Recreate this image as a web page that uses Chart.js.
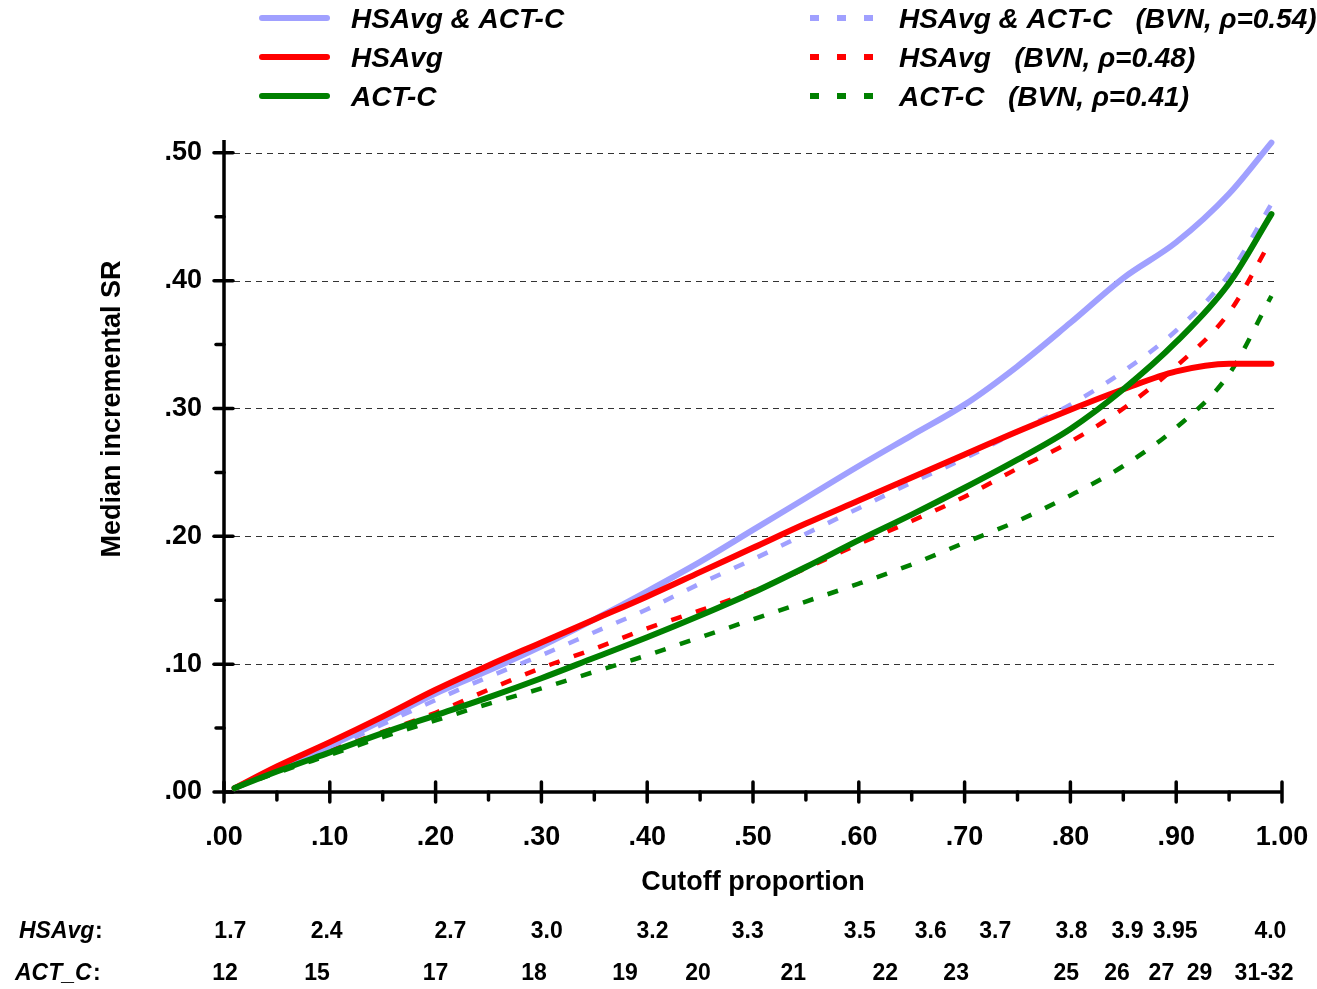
<!DOCTYPE html>
<html>
<head>
<meta charset="utf-8">
<script src="https://cdn.jsdelivr.net/npm/chart.js@4.4.1/dist/chart.umd.min.js"></script>
<style>
  html, body { margin: 0; padding: 0; background: #fff; }
  #wrap { width: 1317px; height: 989px; }
</style>
</head>
<body>
<div id="wrap"><canvas id="cutoff" width="1317" height="989"></canvas></div>
<script>
// cutoff proportion (x) and median incremental SR for each curve
const cutoffs = [0.01, 0.05, 0.10, 0.15, 0.20, 0.25, 0.30, 0.35, 0.40, 0.45, 0.50,
                 0.55, 0.60, 0.65, 0.70, 0.75, 0.80, 0.85, 0.90, 0.95, 0.99];
const bothObserved  = [0.003, 0.018, 0.036, 0.056, 0.077, 0.095, 0.114, 0.135, 0.157, 0.180, 0.205,
                       0.230, 0.255, 0.279, 0.303, 0.333, 0.367, 0.402, 0.430, 0.468, 0.508];
const hsavgObserved = [0.003, 0.020, 0.039, 0.059, 0.080, 0.099, 0.117, 0.135, 0.153, 0.172, 0.191,
                       0.210, 0.228, 0.246, 0.264, 0.282, 0.299, 0.315, 0.329, 0.335, 0.335];
const actObserved   = [0.003, 0.016, 0.031, 0.046, 0.060, 0.074, 0.089, 0.105, 0.121, 0.138, 0.156,
                       0.176, 0.197, 0.217, 0.238, 0.260, 0.284, 0.315, 0.352, 0.398, 0.452];
const bothBvn       = [0.003, 0.017, 0.034, 0.053, 0.072, 0.090, 0.107, 0.125, 0.143, 0.163, 0.182,
                       0.202, 0.222, 0.242, 0.261, 0.282, 0.303, 0.329, 0.361, 0.405, 0.460];
const hsavgBvn      = [0.003, 0.016, 0.032, 0.047, 0.062, 0.080, 0.097, 0.112, 0.128, 0.142, 0.157,
                       0.175, 0.194, 0.212, 0.231, 0.253, 0.274, 0.300, 0.333, 0.375, 0.432];
const actBvn        = [0.003, 0.015, 0.029, 0.043, 0.056, 0.069, 0.081, 0.094, 0.107, 0.121, 0.135,
                       0.149, 0.163, 0.178, 0.195, 0.212, 0.232, 0.255, 0.285, 0.327, 0.388];

const yMajor = [0, 0.1, 0.2, 0.3, 0.4, 0.5];
const yMinor = [0.05, 0.15, 0.25, 0.35, 0.45];
const xMajor = [0, 0.1, 0.2, 0.3, 0.4, 0.5, 0.6, 0.7, 0.8, 0.9, 1.0];
const xMinor = [0.05, 0.15, 0.25, 0.35, 0.45, 0.55, 0.65, 0.75, 0.85, 0.95];

// score equivalents printed under the axis, placed at a cutoff proportion
const hsavgLabels = ['1.7', '2.4', '2.7', '3.0', '3.2', '3.3', '3.5', '3.6', '3.7', '3.8', '3.9', '3.95', '4.0'];
const hsavgAt     = [0.006, 0.097, 0.214, 0.305, 0.405, 0.495, 0.601, 0.668, 0.729, 0.801, 0.854, 0.899, 0.989];
const actLabels   = ['12', '15', '17', '18', '19', '20', '21', '22', '23', '25', '26', '27', '29', '31-32'];
const actAt       = [0.001, 0.088, 0.200, 0.293, 0.379, 0.448, 0.538, 0.625, 0.692, 0.796, 0.844, 0.886, 0.922, 0.983];

const LAVENDER = '#a0a0ff';
const RED = '#ff0000';
const GREEN = '#008000';
const FONT = '"Liberation Sans", Arial, Helvetica, sans-serif';

Chart.defaults.font.family = FONT;
Chart.defaults.color = '#000';

function series(label, values, color, dashed) {
  return {
    label: label,
    data: cutoffs.map((x, i) => ({ x: x, y: values[i] })),
    borderColor: color,
    borderWidth: dashed ? 4.5 : 6,
    borderDash: dashed ? [11, 15] : [],
    borderCapStyle: dashed ? 'butt' : 'round',
    pointRadius: 0,
    fill: false,
    cubicInterpolationMode: 'monotone',
    clip: 12
  };
}

function fmt(v) {
  const n = Math.round(v * 100);
  if (n === 100) return '1.00';
  return '.' + String(n).padStart(2, '0');
}

const axesPlugin = {
  id: 'axesPlugin',
  beforeDatasetsDraw(chart) {
    const ctx = chart.ctx;
    const xs = chart.scales.x, ys = chart.scales.y;
    const area = chart.chartArea;
    const x0 = xs.getPixelForValue(0);
    const y0 = ys.getPixelForValue(0);
    ctx.save();
    // dashed grid lines
    ctx.strokeStyle = '#333';
    ctx.lineWidth = 1.2;
    ctx.setLineDash([6, 5]);
    yMajor.slice(1).forEach(v => {
      const y = Math.round(ys.getPixelForValue(v)) + 0.5;
      ctx.beginPath();
      ctx.moveTo(x0 + 10, y);
      ctx.lineTo(area.right - 4, y);
      ctx.stroke();
    });
    ctx.setLineDash([]);
    // axis lines
    ctx.strokeStyle = '#000';
    ctx.lineWidth = 3.5;
    ctx.beginPath();
    ctx.moveTo(x0, area.top);
    ctx.lineTo(x0, y0);
    ctx.lineTo(xs.getPixelForValue(1), y0);
    ctx.stroke();
    // ticks
    ctx.lineWidth = 3.5;
    ctx.lineCap = 'round';
    yMajor.forEach(v => {
      const y = ys.getPixelForValue(v);
      ctx.beginPath(); ctx.moveTo(x0 - 10, y); ctx.lineTo(x0 + 9, y); ctx.stroke();
    });
    yMinor.forEach(v => {
      const y = ys.getPixelForValue(v);
      ctx.beginPath(); ctx.moveTo(x0 - 8, y); ctx.lineTo(x0, y); ctx.stroke();
    });
    xMajor.forEach(v => {
      const x = xs.getPixelForValue(v);
      ctx.beginPath(); ctx.moveTo(x, y0 - 10); ctx.lineTo(x, y0 + 10); ctx.stroke();
    });
    xMinor.forEach(v => {
      const x = xs.getPixelForValue(v);
      ctx.beginPath(); ctx.moveTo(x, y0); ctx.lineTo(x, y0 + 8); ctx.stroke();
    });
    ctx.restore();
  },
  afterDraw(chart) {
    const ctx = chart.ctx;
    const xs = chart.scales.x;
    ctx.save();
    ctx.fillStyle = '#000';

    // y axis title
    ctx.save();
    ctx.translate(113, 409);
    ctx.rotate(-Math.PI / 2);
    ctx.font = 'bold 27px ' + FONT;
    ctx.textAlign = 'center';
    ctx.textBaseline = 'middle';
    ctx.fillText('Median incremental SR', 0, 0);
    ctx.restore();

    // legend
    const rows = [18, 57, 96];
    const solid = [[LAVENDER, 'HSAvg & ACT-C'], [RED, 'HSAvg'], [GREEN, 'ACT-C']];
    const bvn = [[LAVENDER, 'HSAvg & ACT-C   (BVN, \u03C1=0.54)'],
                 [RED, 'HSAvg   (BVN, \u03C1=0.48)'],
                 [GREEN, 'ACT-C   (BVN, \u03C1=0.41)']];
    ctx.font = 'italic bold 28px ' + FONT;
    ctx.textAlign = 'left';
    ctx.textBaseline = 'alphabetic';
    rows.forEach((y, i) => {
      ctx.strokeStyle = solid[i][0];
      ctx.lineWidth = 6;
      ctx.lineCap = 'round';
      ctx.setLineDash([]);
      ctx.beginPath(); ctx.moveTo(262, y); ctx.lineTo(327, y); ctx.stroke();
      ctx.fillText(solid[i][1], 351, y + 10);

      ctx.strokeStyle = bvn[i][0];
      ctx.lineCap = 'butt';
      ctx.setLineDash([9, 18]);
      ctx.beginPath(); ctx.moveTo(810, y); ctx.lineTo(874, y); ctx.stroke();
      ctx.setLineDash([]);
      ctx.fillText(bvn[i][1], 899, y + 10);
    });

    // score rows below the axis title
    ctx.font = 'italic bold 23px ' + FONT;
    ctx.textAlign = 'left';
    ctx.textBaseline = 'middle';
    ctx.fillText('HSAvg', 19, 932);
    ctx.fillText('ACT_C', 15, 974);
    ctx.font = 'bold 23px ' + FONT;
    ctx.fillText(':', 95, 932);
    ctx.fillText(':', 93, 974);
    ctx.textAlign = 'center';
    hsavgLabels.forEach((t, i) => ctx.fillText(t, xs.getPixelForValue(hsavgAt[i]), 932));
    actLabels.forEach((t, i) => ctx.fillText(t, xs.getPixelForValue(actAt[i]), 974));
    ctx.restore();
  }
};

new Chart(document.getElementById('cutoff'), {
  type: 'line',
  data: {
    datasets: [
      series('ACT-C', actObserved, GREEN, false),
      series('HSAvg', hsavgObserved, RED, false),
      series('HSAvg & ACT-C', bothObserved, LAVENDER, false),
      series('ACT-C (BVN, \u03C1=0.41)', actBvn, GREEN, true),
      series('HSAvg (BVN, \u03C1=0.48)', hsavgBvn, RED, true),
      series('HSAvg & ACT-C (BVN, \u03C1=0.54)', bothBvn, LAVENDER, true)
    ]
  },
  options: {
    responsive: false,
    animation: false,
    layout: { padding: { top: 140, right: 35, bottom: 0, left: 0 } },
    plugins: { legend: { display: false }, tooltip: { enabled: false } },
    scales: {
      x: {
        type: 'linear',
        min: 0,
        max: 1,
        afterBuildTicks: scale => { scale.ticks = xMajor.map(v => ({ value: v })); },
        afterFit: scale => {
          scale.height = 197;
          scale.paddingLeft = 0;
          scale.paddingRight = 0;
        },
        grid: { display: false, drawTicks: false },
        border: { display: false },
        ticks: {
          autoSkip: false,
          maxRotation: 0,
          padding: 29,
          font: { size: 27, weight: 'bold' },
          callback: v => fmt(v)
        },
        title: {
          display: true,
          text: 'Cutoff proportion',
          font: { size: 27, weight: 'bold' },
          padding: { top: 0, bottom: 90 }
        }
      },
      y: {
        type: 'linear',
        min: 0,
        max: 0.51,
        afterBuildTicks: scale => { scale.ticks = yMajor.map(v => ({ value: v })); },
        afterFit: scale => {
          scale.width = 224;
          scale.paddingTop = 0;
          scale.paddingBottom = 0;
        },
        grid: { display: false, drawTicks: false },
        border: { display: false },
        ticks: {
          padding: 22,
          font: { size: 27, weight: 'bold' },
          callback: v => fmt(v)
        }
      }
    }
  },
  plugins: [axesPlugin]
});
</script>
</body>
</html>
